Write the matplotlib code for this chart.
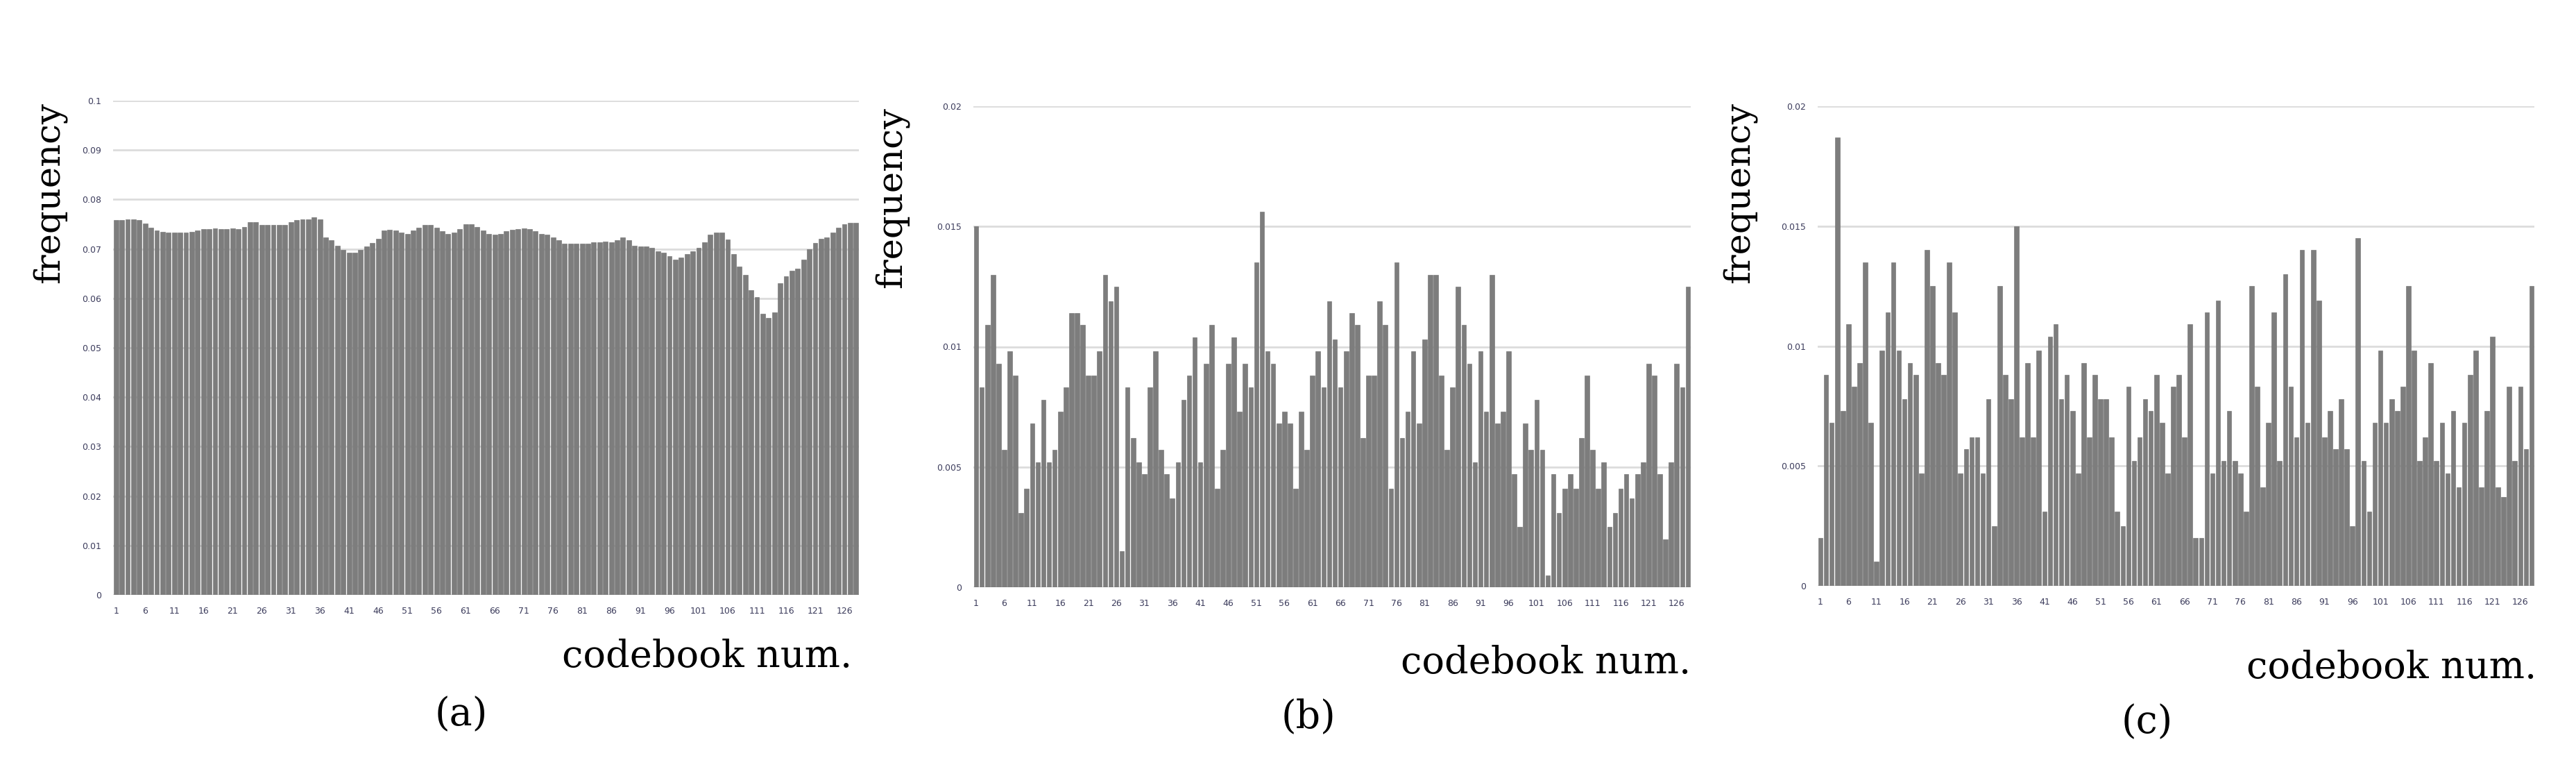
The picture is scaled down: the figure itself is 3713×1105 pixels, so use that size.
import numpy as np
import matplotlib
matplotlib.use("Agg")
import matplotlib.pyplot as plt

# codebook index 1..128
codebook = np.arange(1, 129)
xtick_pos = list(range(1, 129, 5))

# (a) frequency per codebook entry
freq_a = [
    0.0758, 0.0758, 0.0760, 0.0760, 0.0758, 0.0752, 0.0743, 0.0737, 0.0734, 0.0733,
    0.0733, 0.0733, 0.0733, 0.0734, 0.0737, 0.0740, 0.0740, 0.0741, 0.0740, 0.0740,
    0.0741, 0.0740, 0.0745, 0.0754, 0.0754, 0.0749, 0.0749, 0.0748, 0.0749, 0.0749,
    0.0754, 0.0758, 0.0760, 0.0760, 0.0764, 0.0760, 0.0724, 0.0717, 0.0707, 0.0698,
    0.0693, 0.0693, 0.0698, 0.0705, 0.0712, 0.0721, 0.0738, 0.0739, 0.0738, 0.0733,
    0.0731, 0.0738, 0.0743, 0.0749, 0.0749, 0.0743, 0.0736, 0.0731, 0.0733, 0.0740,
    0.0750, 0.0750, 0.0745, 0.0738, 0.0731, 0.0729, 0.0731, 0.0736, 0.0739, 0.0740,
    0.0741, 0.0740, 0.0736, 0.0731, 0.0729, 0.0724, 0.0717, 0.0710, 0.0710, 0.0711,
    0.0710, 0.0711, 0.0714, 0.0714, 0.0715, 0.0714, 0.0717, 0.0723, 0.0717, 0.0707,
    0.0705, 0.0705, 0.0702, 0.0695, 0.0693, 0.0686, 0.0679, 0.0683, 0.0690, 0.0695,
    0.0702, 0.0714, 0.0729, 0.0733, 0.0733, 0.0719, 0.0690, 0.0664, 0.0648, 0.0617,
    0.0602, 0.0569, 0.0560, 0.0571, 0.0631, 0.0645, 0.0656, 0.0660, 0.0679, 0.0700,
    0.0712, 0.0720, 0.0724, 0.0733, 0.0743, 0.0750, 0.0753, 0.0753,
]

# (b)
freq_b = [
    0.0150, 0.0083, 0.0109, 0.0130, 0.0093, 0.0057, 0.0098, 0.0088, 0.0031, 0.0041,
    0.0068, 0.0052, 0.0078, 0.0052, 0.0057, 0.0073, 0.0083, 0.0114, 0.0114, 0.0109,
    0.0088, 0.0088, 0.0098, 0.0130, 0.0119, 0.0125, 0.0015, 0.0083, 0.0062, 0.0052,
    0.0047, 0.0083, 0.0098, 0.0057, 0.0047, 0.0037, 0.0052, 0.0078, 0.0088, 0.0104,
    0.0052, 0.0093, 0.0109, 0.0041, 0.0057, 0.0093, 0.0104, 0.0073, 0.0093, 0.0083,
    0.0135, 0.0156, 0.0098, 0.0093, 0.0068, 0.0073, 0.0068, 0.0041, 0.0073, 0.0057,
    0.0088, 0.0098, 0.0083, 0.0119, 0.0103, 0.0083, 0.0098, 0.0114, 0.0109, 0.0062,
    0.0088, 0.0088, 0.0119, 0.0109, 0.0041, 0.0135, 0.0062, 0.0073, 0.0098, 0.0068,
    0.0103, 0.0130, 0.0130, 0.0088, 0.0057, 0.0083, 0.0125, 0.0109, 0.0093, 0.0052,
    0.0098, 0.0073, 0.0130, 0.0068, 0.0073, 0.0098, 0.0047, 0.0025, 0.0068, 0.0057,
    0.0078, 0.0057, 0.0005, 0.0047, 0.0031, 0.0041, 0.0047, 0.0041, 0.0062, 0.0088,
    0.0057, 0.0041, 0.0052, 0.0025, 0.0031, 0.0041, 0.0047, 0.0037, 0.0047, 0.0052,
    0.0093, 0.0088, 0.0047, 0.0020, 0.0052, 0.0093, 0.0083, 0.0125,
]

# (c)
freq_c = [
    0.0020, 0.0088, 0.0068, 0.0187, 0.0073, 0.0109, 0.0083, 0.0093, 0.0135, 0.0068,
    0.0010, 0.0098, 0.0114, 0.0135, 0.0098, 0.0078, 0.0093, 0.0088, 0.0047, 0.0140,
    0.0125, 0.0093, 0.0088, 0.0135, 0.0114, 0.0047, 0.0057, 0.0062, 0.0062, 0.0047,
    0.0078, 0.0025, 0.0125, 0.0088, 0.0078, 0.0150, 0.0062, 0.0093, 0.0062, 0.0098,
    0.0031, 0.0104, 0.0109, 0.0078, 0.0088, 0.0073, 0.0047, 0.0093, 0.0062, 0.0088,
    0.0078, 0.0078, 0.0062, 0.0031, 0.0025, 0.0083, 0.0052, 0.0062, 0.0078, 0.0073,
    0.0088, 0.0068, 0.0047, 0.0083, 0.0088, 0.0062, 0.0109, 0.0020, 0.0020, 0.0114,
    0.0047, 0.0119, 0.0052, 0.0073, 0.0052, 0.0047, 0.0031, 0.0125, 0.0083, 0.0041,
    0.0068, 0.0114, 0.0052, 0.0130, 0.0083, 0.0062, 0.0140, 0.0068, 0.0140, 0.0119,
    0.0062, 0.0073, 0.0057, 0.0078, 0.0057, 0.0025, 0.0145, 0.0052, 0.0031, 0.0068,
    0.0098, 0.0068, 0.0078, 0.0073, 0.0083, 0.0125, 0.0098, 0.0052, 0.0062, 0.0093,
    0.0052, 0.0068, 0.0047, 0.0073, 0.0041, 0.0068, 0.0088, 0.0098, 0.0041, 0.0073,
    0.0104, 0.0041, 0.0037, 0.0083, 0.0052, 0.0083, 0.0057, 0.0125,
]

yticks_a = [0, 0.01, 0.02, 0.03, 0.04, 0.05, 0.06, 0.07, 0.08, 0.09, 0.1]
ylabels_a = ['0', '0.01', '0.02', '0.03', '0.04', '0.05', '0.06', '0.07', '0.08', '0.09', '0.1']
yticks_bc = [0, 0.005, 0.01, 0.015, 0.02]
ylabels_bc = ['0', '0.005', '0.01', '0.015', '0.02']
panel_tags = ['(a)', '(b)', '(c)']

W, H = 3713, 1105
fig = plt.figure(figsize=(W / 100, H / 100), dpi=100)
fig.patch.set_facecolor('white')

# pixel boxes: left, right, top, bottom
boxes = [(163, 1238, 145, 857), (1403, 2437, 153, 846), (2620, 3653, 153, 844)]
series = [freq_a, freq_b, freq_c]
yt = [(yticks_a, ylabels_a), (yticks_bc, ylabels_bc), (yticks_bc, ylabels_bc)]
freq_pos = [(71, 147), (1285, 154), (2507, 147)]
xlab_pos = [(1228, 946), (2437, 955), (3656, 962)]
tag_pos = [(665, 1030), (1886, 1034), (3095, 1041)]

serif = ['DejaVu Serif']
tick_col = '#3c3c5c'

for i in range(3):
    l, r, t, b = boxes[i]
    ax = fig.add_axes([l / W, (H - b) / H, (r - l) / W, (b - t) / H])
    ax.bar(codebook, series[i], width=0.82, color='#7d7d7d',
           edgecolor='#6b6b6b', linewidth=0.4, zorder=2)
    ticks, labels = yt[i]
    ax.set_ylim(0, ticks[-1])
    ax.set_xlim(0.5, 128.5)
    ax.set_yticks(ticks)
    ax.set_yticklabels(labels, fontsize=9, color=tick_col)
    ax.set_xticks(xtick_pos)
    ax.set_xticklabels([str(v) for v in xtick_pos], fontsize=9, color=tick_col)
    ax.tick_params(length=0, pad=12)
    ax.grid(axis='y', color='#dcdcdc', linewidth=2.0, zorder=0)
    ax.set_axisbelow(True)
    for s in ax.spines.values():
        s.set_visible(False)

    fx, fy = freq_pos[i]
    fig.text(fx / W, 1 - fy / H, 'frequency', rotation=90, ha='center', va='top',
             fontsize=37, family=serif)
    xx, xy = xlab_pos[i]
    fig.text(xx / W, 1 - xy / H, 'codebook num.', ha='right', va='center',
             fontsize=39, family=serif)
    tx, ty = tag_pos[i]
    fig.text(tx / W, 1 - ty / H, panel_tags[i], ha='center', va='center',
             fontsize=40, family=serif)

fig.savefig('out.png', dpi=100, facecolor='white')
